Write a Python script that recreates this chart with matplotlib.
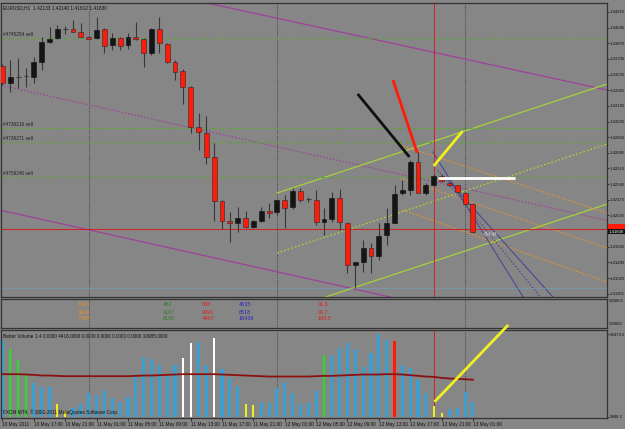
import numpy as np
import matplotlib
matplotlib.use("Agg")
import matplotlib.pyplot as plt
import matplotlib.transforms as mtransforms

plt.rcParams["font.family"] = ["Liberation Sans", "DejaVu Sans"]

W, H = 625, 429
BG = "#868686"

# EURUSD H1 bars, 10 May 2011 13:00 -> 13 May 2011 01:00
opens = [1.4363, 1.4344, 1.4351, 1.4351, 1.4351, 1.4367, 1.4389, 1.4393, 1.4403, 1.4403,
         1.4400, 1.4394, 1.4393, 1.4403, 1.4386, 1.4393, 1.4386, 1.4394, 1.4392, 1.4377,
         1.4403, 1.4387, 1.4367, 1.4357, 1.4340, 1.4297, 1.4290, 1.4264, 1.4216, 1.4194,
         1.4192, 1.4198, 1.4188, 1.4194, 1.4205, 1.4204, 1.4217, 1.4210, 1.4227, 1.4217,
         1.4217, 1.4193, 1.4197, 1.4219, 1.4192, 1.4147, 1.4150, 1.4165, 1.4156, 1.4179,
         1.4192, 1.4225, 1.4228, 1.4259, 1.4225, 1.4234, 1.4243, 1.4236, 1.4233, 1.4225, 1.4213]
highs = [1.4365, 1.4369, 1.4372, 1.4361, 1.4373, 1.4394, 1.4405, 1.4407, 1.4406, 1.4413,
         1.4410, 1.4395, 1.4416, 1.4404, 1.4399, 1.4394, 1.4399, 1.4411, 1.4393, 1.4404,
         1.4416, 1.4388, 1.4369, 1.4359, 1.4341, 1.4312, 1.4308, 1.4279, 1.4217, 1.4204,
         1.4210, 1.4205, 1.4196, 1.4210, 1.4214, 1.4217, 1.4223, 1.4230, 1.4230, 1.4221,
         1.4228, 1.4209, 1.4226, 1.4229, 1.4193, 1.4150, 1.4174, 1.4171, 1.4192, 1.4209,
         1.4234, 1.4239, 1.4261, 1.4269, 1.4236, 1.4245, 1.4245, 1.4237, 1.4234, 1.4226, 1.4214]
lows = [1.4342, 1.4335, 1.4339, 1.4340, 1.4344, 1.4358, 1.4388, 1.4392, 1.4398, 1.4400,
        1.4394, 1.4392, 1.4392, 1.4377, 1.4380, 1.4380, 1.4381, 1.4391, 1.4362, 1.4375,
        1.4377, 1.4366, 1.4348, 1.4321, 1.4290, 1.4272, 1.4256, 1.4194, 1.4186, 1.4172,
        1.4183, 1.4187, 1.4187, 1.4193, 1.4198, 1.4201, 1.4187, 1.4207, 1.4215, 1.4215,
        1.4190, 1.4179, 1.4193, 1.4185, 1.4138, 1.4122, 1.4139, 1.4138, 1.4152, 1.4168,
        1.4192, 1.4223, 1.4223, 1.4225, 1.4223, 1.4232, 1.4237, 1.4232, 1.4226, 1.4212, 1.4181]
closes = [1.4344, 1.4351, 1.4351, 1.4352, 1.4367, 1.4389, 1.4392, 1.4403, 1.4403, 1.4400,
          1.4394, 1.4392, 1.4402, 1.4385, 1.4393, 1.4385, 1.4394, 1.4392, 1.4377, 1.4403,
          1.4388, 1.4367, 1.4356, 1.4340, 1.4297, 1.4291, 1.4264, 1.4216, 1.4194, 1.4192,
          1.4198, 1.4188, 1.4194, 1.4205, 1.4203, 1.4217, 1.4209, 1.4227, 1.4217, 1.4218,
          1.4193, 1.4197, 1.4219, 1.4193, 1.4147, 1.4150, 1.4165, 1.4156, 1.4178, 1.4192,
          1.4224, 1.4228, 1.4259, 1.4225, 1.4234, 1.4243, 1.4238, 1.4233, 1.4226, 1.4213, 1.4183]

# Better Volume histogram, bar colour codes and its average
volumes = [22773, 20265, 16754, 12440, 10032, 8728, 8728, 3712, 1705, 2709,
           3912, 6922, 6521, 7725, 5417, 4514, 5919, 11938, 17757, 17255,
           15249, 12239, 15249, 17456, 21769, 22271, 15249, 23475, 14245, 11436,
           9029, 3712, 3411, 4414, 4013, 8427, 10433, 6922, 3912, 4013,
           7725, 18258, 18459, 20566, 21769, 20265, 14747, 19061, 24479, 22773,
           22572, 15249, 14446, 10935, 6922, 3210, 1204, 2207, 2709, 7424, 4416]
vol_codes = "bgggbbbyyb" "bbbbbbbbbb" "bbbwwbbwbb" "byybbbbbbb" "bgbbbbbbbb" "rbbbbyybbbb"
vol_ma = [12640, 12640, 12640, 12540, 12440, 12240, 12240, 12140, 12040, 12040,
          12040, 12040, 12040, 12040, 12040, 12040, 12040, 12140, 12240, 12240,
          12340, 12440, 12540, 12640, 12640, 12640, 12640, 12640, 12540, 12440,
          12340, 12240, 12140, 12040, 11940, 11940, 11940, 11940, 11940, 11940,
          12040, 12140, 12140, 12240, 12340, 12440, 12540, 12540, 12540, 12640,
          12640, 12540, 12340, 12140, 11940, 11840, 11540, 11340, 11240, 11140, 10985]

time_labels = ["10 May 2011", "10 May 17:00", "10 May 21:00", "11 May 01:00", "11 May 05:00",
               "11 May 09:00", "11 May 13:00", "11 May 17:00", "11 May 21:00", "12 May 01:00",
               "12 May 05:00", "12 May 09:00", "12 May 13:00", "12 May 17:00", "12 May 21:00",
               "13 May 01:00"]
time_ticks = list(range(0, 61, 4))
day_breaks = [11, 35, 59]
price_ticks = [1.44215 - 0.0017 * k for k in range(19)]

# order lines
order_levels = [1.43932, 1.42955, 1.42802, 1.42422]
order_labels = ["#4745254 sell", "#4736216 sell", "#4736271 sell", "#4759240 sell"]

# drawn objects (bar index, price)
purple_solid = [[(26.1, 1.44312), (77.1, 1.43367)], [(0, 1.42057), (40, 1.41298)]]
purple_dotted = [(0, 1.43415), (60, 1.42276)]
channel_upper = [(35, 1.42248), (60, 1.42951)]
channel_step = 0.00652
orange_rays = [[(50.7, 1.42770), (77.1, 1.42031)],
               [(50.7, 1.42411), (77.1, 1.41651)],
               [(51.1, 1.42064), (77.1, 1.41282)]]
navy_rays = [[(54.9, 1.42694), (66.4, 1.41119)],
             [(55.5, 1.42498), (68.6, 1.41119)],
             [(56.6, 1.42411), (70.2, 1.41119)]]
red_hline = 1.41857
blue_hline = 1.41217
cursor_bar = 55
black_stroke = [(45.3, 1.43324), (51.9, 1.42640)]
red_stroke = [(49.8, 1.43476), (52.9, 1.42683)]
yellow_stroke = [(55.0, 1.42542), (58.7, 1.42922)]
white_stroke = [(55.5, 1.42411), (65.4, 1.42411)]
vol_stroke = [(55.1, 4420), (64.5, 27277)]

# indicator text panel (colour, rows)
ind_cols = [("#e8902a", ["1025", "3108", "7459"]),
            ("#2e7d2e", ["482", "3167", "8165"]),
            ("#e02020", ["688", "2091", "4407"]),
            ("#2a2ab8", ["4035", "6518", "16436"]),
            ("#e02020", ["31.6", "99.7", "109.5"])]
ind_x = [78, 163, 202, 239, 318]

FS = 3.4
AX_FS = 3.1
XLIM = (-0.19, 77.1)

fig = plt.figure(figsize=(W / 100, H / 100), dpi=100, facecolor=BG)


def box(x0, y0, x1, y1):
    return [x0 / W, 1 - y1 / H, (x1 - x0) / W, (y1 - y0) / H]


def ray(a, p0, p1, x_end=90, **kw):
    k = (p1[1] - p0[1]) / (p1[0] - p0[0])
    a.plot([p0[0], x_end], [p0[1], p0[1] + k * (x_end - p0[0])], **kw)


ax = fig.add_axes(box(1, 3, 607, 297), facecolor=BG)
ax_ind = fig.add_axes(box(1, 299, 607, 328), facecolor=BG)
ax_vol = fig.add_axes(box(1, 330, 607, 418), facecolor=BG)
for a in (ax, ax_ind, ax_vol):
    a.set_xlim(*XLIM)
    for s in a.spines.values():
        s.set_color("#333333")
        s.set_linewidth(0.9)
    for b in day_breaks:
        a.axvline(b, color="#2e2e2e", lw=0.6, ls=(0, (1, 1.5)), zorder=1)

# ---- main price chart ----
ax.set_ylim(1.41119, 1.44312)
bars = np.arange(len(opens))
o, h, l, c = map(np.array, (opens, highs, lows, closes))
up = c - o > 0.00012
down = o - c > 0.00012
doji = ~(up | down)

for p0, p1 in purple_solid:
    ax.axline(p0, p1, color="#a0409c", lw=0.9, zorder=1)
ax.axline(*purple_dotted, color="#a0409c", lw=0.8, ls=(0, (1.5, 1.5)), zorder=1)
for k in range(3):
    p0 = (channel_upper[0][0], channel_upper[0][1] - k * channel_step)
    p1 = (channel_upper[1][0], channel_upper[1][1] - k * channel_step)
    ray(ax, p0, p1, color="#a6d23a", lw=0.9,
        ls="-" if k != 1 else (0, (1.5, 1.5)), zorder=1)
for p0, p1 in orange_rays:
    ray(ax, p0, p1, color="#e8942e", lw=0.8, ls=(0, (1.5, 1.5)), zorder=1)
for k, (p0, p1) in enumerate(navy_rays):
    ray(ax, p0, p1, color="#4a4a94", lw=0.8,
        ls="-" if k != 1 else (0, (1.5, 1.5)), zorder=1)
for lvl, lab in zip(order_levels, order_labels):
    ax.axhline(lvl, color="#5aa832", lw=0.8, ls=(0, (4, 3)), zorder=1)
    ax.annotate(lab, (0.004, lvl), xycoords=("axes fraction", "data"),
                xytext=(0, 0.8), textcoords="offset points",
                fontsize=FS, color="#202020", va="bottom")
ax.axhline(red_hline, color="#d42020", lw=0.7, zorder=1)
ax.axhline(blue_hline, color="#6aa6d0", lw=0.7, ls=(0, (1.5, 1.5)), zorder=1)
ax.axvline(cursor_bar, color="#d42020", lw=0.7, zorder=1)

ax.vlines(bars, l, h, color="#383838", lw=0.8, zorder=3)
ax.bar(bars[up], (c - o)[up], bottom=o[up], width=0.62, color="#151515",
       edgecolor="#101010", lw=0.4, zorder=4)
ax.bar(bars[down], (o - c)[down], bottom=c[down], width=0.62, color="#ff1a0a",
       edgecolor="#2a2a2a", lw=0.4, zorder=4)
ax.hlines(c[doji], bars[doji] - 0.31, bars[doji] + 0.31, color="#3c3c3c",
          lw=0.8, zorder=4)

for (p0, p1), col in zip([black_stroke, red_stroke, yellow_stroke, white_stroke],
                         ["#101010", "#ff1a0a", "#f0f020", "#ffffff"]):
    ax.plot([p0[0], p1[0]], [p0[1], p1[1]], color=col, lw=2.0,
            solid_capstyle="butt", zorder=5)

ax.text(61.2, 1.41803, "<34:44", fontsize=FS, color="#d8d8d8", va="center", zorder=6)
ax.text(0.003, 0.993, "EURUSD,H1  1.42133 1.42140 1.41812 1.41830",
        transform=ax.transAxes, fontsize=FS, color="#101010", va="top")

ax.set_xticks([])
ax.yaxis.tick_right()
shown = [t for t in price_ticks if abs(t - closes[-1]) > 0.0006]
ax.set_yticks(shown, [f"{t:.5f}" for t in shown])
ax.tick_params(axis="y", labelsize=AX_FS, length=1.5, width=0.5, pad=0.6, colors="#101010")
blend = mtransforms.blended_transform_factory(ax.transAxes, ax.transData)
ax.text(1.003, red_hline + 0.0002, "1.41857", transform=blend, fontsize=AX_FS,
        color="#ff1a0a", va="center", clip_on=False,
        bbox=dict(boxstyle="square,pad=0.2", fc="#ff1a0a", ec="none"))
ax.text(1.003, closes[-1], f"{closes[-1]:.5f}", transform=blend, fontsize=AX_FS,
        color="#ffffff", va="center", clip_on=False, zorder=7,
        bbox=dict(boxstyle="square,pad=0.2", fc="#101010", ec="none"))

# ---- indicator text panel ----
ax_ind.set_ylim(0, 1)
ax_ind.set_xticks([])
ax_ind.set_yticks([])
for x, (col, rows) in zip(ind_x, ind_cols):
    for r, txt in enumerate(rows):
        fig.text(x / W, 1 - (305 + 7 * r) / H, txt, fontsize=4.0, color=col,
                 va="center")
fig.text(609 / W, 1 - 301 / H, "90000.0", fontsize=AX_FS, color="#101010", va="center")
fig.text(609 / W, 1 - 324 / H, "900000", fontsize=AX_FS, color="#101010", va="center")

# ---- Better Volume panel ----
vcol = {"b": "#3a9fd2", "g": "#22e022", "y": "#f0f020", "w": "#ffffff", "r": "#ff1a0a"}
vwid = {"b": 0.4, "g": 0.22, "y": 0.26, "w": 0.26, "r": 0.38}
ax_vol.set_ylim(-391, 25772)
ax_vol.bar(bars, volumes, width=[vwid[k] for k in vol_codes],
           color=[vcol[k] for k in vol_codes], zorder=2)
ax_vol.plot(bars, vol_ma, color="#8b1010", lw=1.3, zorder=3)
ax_vol.axvline(cursor_bar, color="#d42020", lw=0.7, zorder=1)
ax_vol.plot([vol_stroke[0][0], vol_stroke[1][0]], [vol_stroke[0][1], vol_stroke[1][1]],
            color="#f0f020", lw=2.0, solid_capstyle="butt", clip_on=False, zorder=6)
ax_vol.text(0.003, 0.96, "Better Volume 1.4 0.0000 4416.0000 0.0000 0.0000 0.0000 0.0000 10985.0000",
            transform=ax_vol.transAxes, fontsize=FS, color="#101010", va="top")
ax_vol.text(0.003, 0.03, "FXCM MT4, \u00a9 2001-2011 MetaQuotes Software Corp.",
            transform=ax_vol.transAxes, fontsize=FS, color="#101010", va="bottom")
ax_vol.yaxis.tick_right()
ax_vol.set_yticks([0, 24479.2], ["9988.2", "24479.2"])
ax_vol.tick_params(axis="y", labelsize=AX_FS, length=1.5, width=0.5, pad=0.6, colors="#101010")
ax_vol.set_xticks(time_ticks, time_labels, ha="left")
ax_vol.tick_params(axis="x", labelsize=FS, length=2, width=0.5, pad=1, colors="#101010")

fig.savefig("out.png", dpi=100, facecolor=BG)
